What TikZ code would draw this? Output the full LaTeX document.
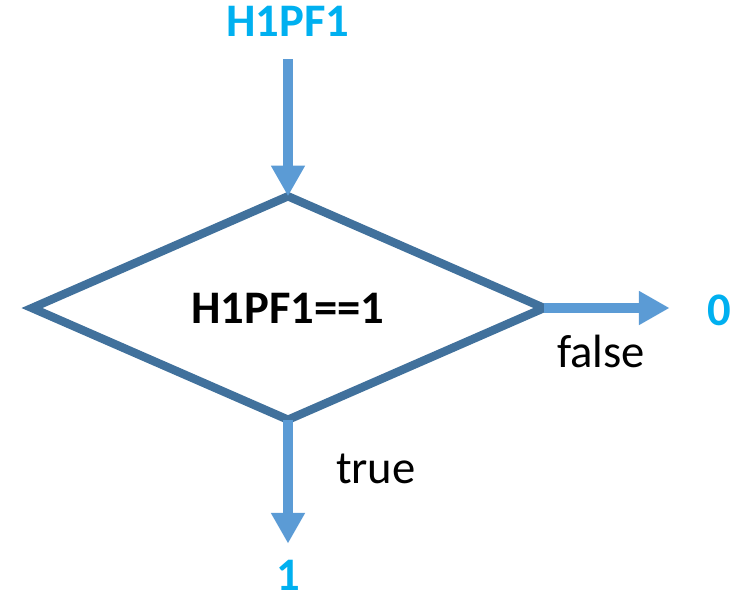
\documentclass[tikz,border=0pt]{standalone}
\usepackage{fontspec}
\setmainfont{Carlito}
\usepackage{tikz}
\usetikzlibrary{shapes.geometric}
\usetikzlibrary{arrows.meta}
\definecolor{flowblue}{HTML}{5B9BD5}
\definecolor{edgeblue}{HTML}{41719C}
\definecolor{termblue}{HTML}{00B0F0}
\tikzset{
	big/.style={font=\fontsize{35}{42}\selectfont, inner sep=0pt},
	term/.style={big, text=termblue, font=\fontsize{35}{42}\selectfont\bfseries},
	flow/.style={draw=flowblue, line width=8pt, -{Triangle[length=23pt,width=24pt]}}
}
\begin{document}
\begin{tikzpicture}[x=0.75pt, y=-0.75pt]
				\useasboundingbox (0,0) rectangle (736,593);
				\node[term] (in) at (288,21) {H1PF1};
				\node[diamond, draw=edgeblue, line width=6.3pt, minimum width=384pt, minimum height=158pt, inner sep=0pt, outer sep=0pt, big, font=\fontsize{35}{42}\selectfont\bfseries] (test) at (288,308) {H1PF1==1};
				\node[term] (zero) at (719,310) {0};
				\node[term] (one) at (288,575) {1};
				
				\draw[flow, shorten <=17pt]  (in.south) -- (test.north);
				\draw[flow, shorten >=28pt]  (test.east) -- (test.east -| zero.west) node[pos=0.35, below=16pt, big, text=black] {false};
				\draw[flow, shorten >=12pt]  (test.south) -- (one.north) node[pos=0.35, right=32pt, big, text=black] {true};
			\end{tikzpicture}
\end{document}
